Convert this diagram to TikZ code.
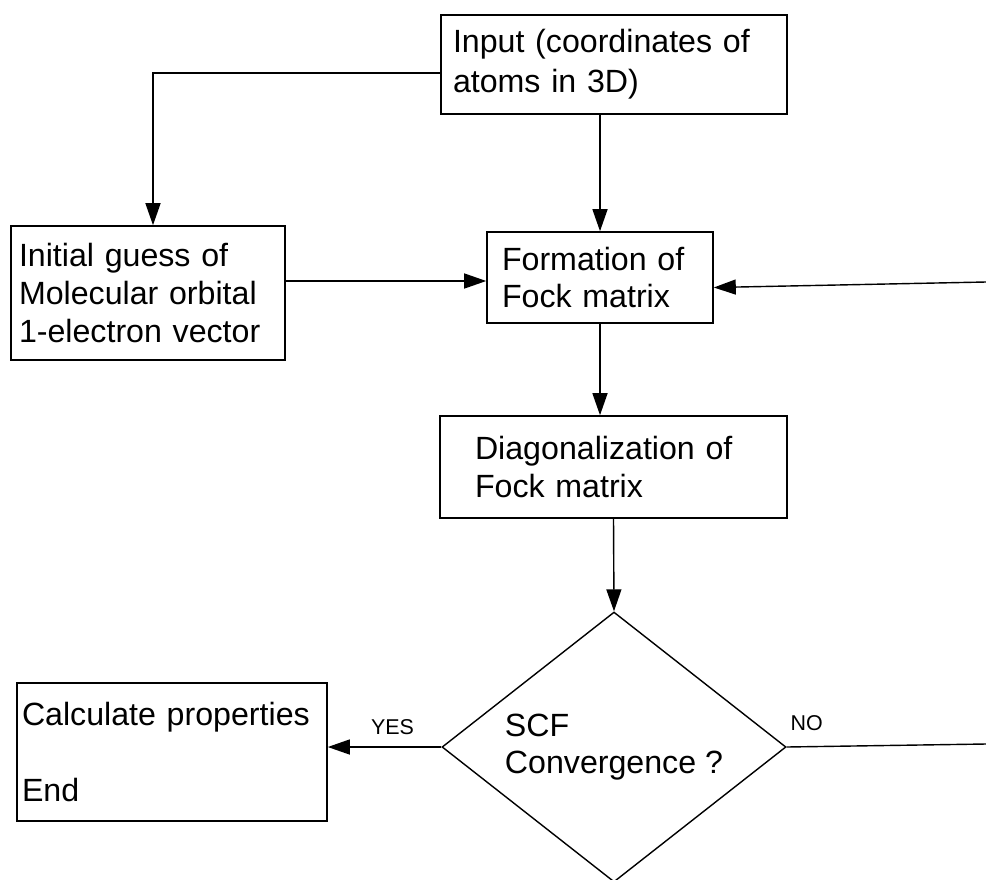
\documentclass[tikz,border=0pt]{standalone}
\usepackage{fontspec}
\setmainfont{Liberation Sans}
\usetikzlibrary{arrows.meta,positioning,shapes.geometric}

\begin{document}
\begin{tikzpicture}[every node/.style={font=\fontsize{18.3}{21.5}\selectfont},
    procbox/.style={draw, line width=0.9pt, align=left, inner sep=0pt},
    decision/.style={draw, diamond, aspect=1.274, line width=0.8pt, align=left, inner sep=0pt,
      minimum width=6.88cm, minimum height=5.4cm},
    flow/.style={line width=0.8pt, -{Triangle[length=0.44cm,width=0.3cm]}},
    answer/.style={font=\fontsize{12.2}{14}\selectfont, inner sep=1pt}]
        \useasboundingbox (0,0) rectangle (19.72,-17.58);
        \node[procbox, minimum width=6.92cm, minimum height=1.98cm, text width=6.44cm]
          (input) at (12.28,-1.29) {Input (coordinates of\\[1.3pt]atoms in 3D)};
        \node[procbox, minimum width=5.48cm, minimum height=2.68cm, text width=5.16cm]
          (guess) at (2.96,-5.86) {Initial guess of\\Molecular orbital\\1-electron vector};
        \node[procbox, minimum width=4.52cm, minimum height=1.82cm, text width=3.92cm]
          (fock) at (12.0,-5.55) {Formation of\\Fock matrix};
        \node[procbox, minimum width=6.94cm, minimum height=2.04cm, text width=5.54cm]
          (diag) at (12.27,-9.34) {Diagonalization of\\Fock matrix};
        \node[decision] (scf) at (12.28,-14.94) {SCF\\Convergence ?};
        \node[procbox, minimum width=6.2cm, minimum height=2.76cm, text width=6.0cm]
          (calc) at (3.44,-15.04) {Calculate properties\\[\baselineskip]End};
        \coordinate (loopin) at (19.72,-5.64);
        \coordinate (loopout) at (19.72,-14.88);
        \draw[flow] ([yshift=-0.17cm]input.west) -| ([xshift=0.1cm]guess.north);
        \draw[flow] (input.south -| fock.north) -- (fock.north);
        \draw[flow] ([yshift=-0.07cm]guess.east |- fock.west) -- ([yshift=-0.07cm]fock.west);
        \draw[flow] (loopin) -- ([yshift=-0.2cm]fock.east);
        \draw[flow] (fock.south) -- (fock.south |- diag.north);
        \draw[flow] (diag.south) -- (scf.north);
        \draw[flow] (scf.west) -- node[answer, above=0.2cm, pos=0.43] {YES}
          (calc.east |- scf.west);
        \draw[line width=0.8pt] (scf.east) -- node[answer, above=0.28cm, pos=0.1] {NO}
          (loopout);
\end{tikzpicture}
\end{document}
